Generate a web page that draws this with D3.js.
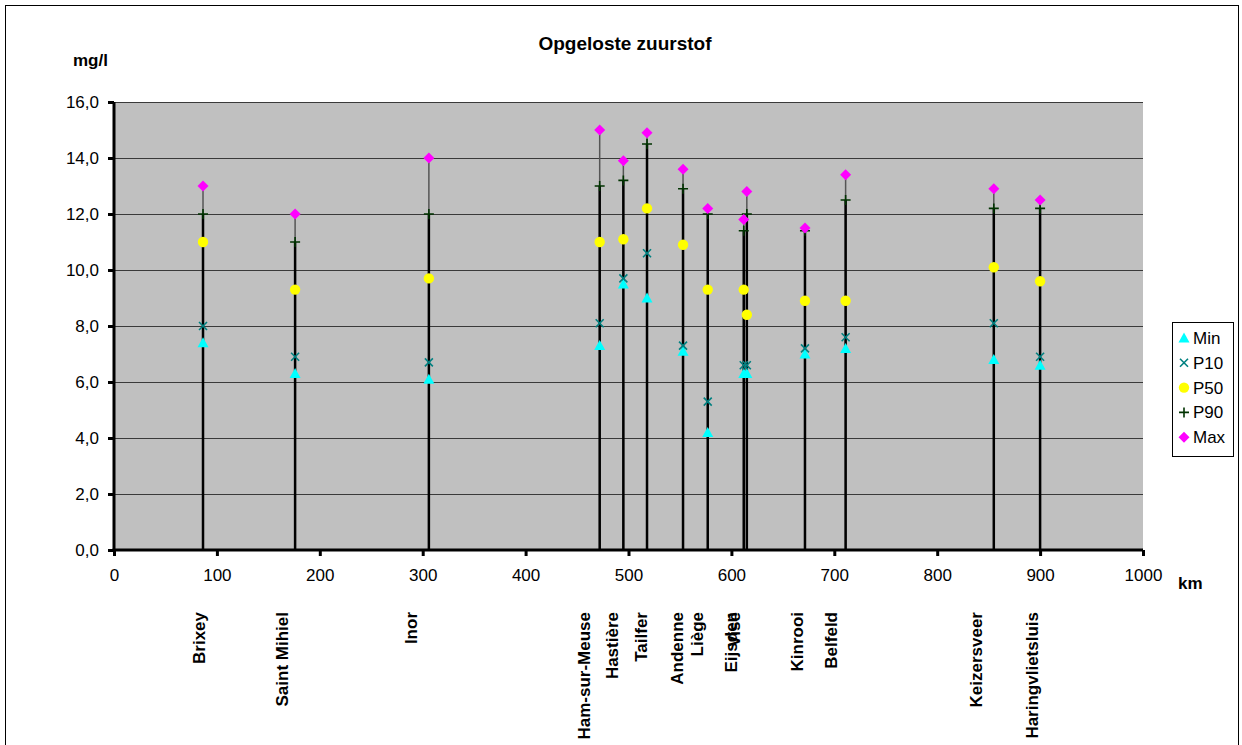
<!DOCTYPE html>
<html><head><meta charset="utf-8">
<script src="https://cdn.jsdelivr.net/npm/d3@7"></script>
<style>body{margin:0;background:#fff}svg{display:block;font-family:Arial,"Liberation Sans",sans-serif}</style>
</head><body><svg id="c" width="1242" height="745"></svg>
<script>
const stations = ["Brixey","Saint Mihiel","Inor","Ham-sur-Meuse","Hastière","Tailfer","Andenne","Liège","Eijsden","Visé","Kinrooi","Belfeld","Keizersveer","Haringvlietsluis"];
const km   = [86.5,176,306,472,495,518,553,577,612,615,671.5,711,855,900];
const labelKm = [83.6,164,289.6,457.7,485,513,548,567.5,600.6,603.5,664.7,697.8,838.7,893];
const minV = [7.4,6.3,6.1,7.3,9.5,9.0,7.1,4.2,6.3,6.3,7.0,7.2,6.8,6.6];
const p10V = [8.0,6.9,6.7,8.1,9.7,10.6,7.3,5.3,6.6,6.6,7.2,7.6,8.1,6.9];
const p50V = [11.0,9.3,9.7,11.0,11.1,12.2,10.9,9.3,9.3,8.4,8.9,8.9,10.1,9.6];
const p90V = [12.0,11.0,12.0,13.0,13.2,14.5,12.9,12.0,11.4,12.0,11.4,12.5,12.2,12.2];
const maxV = [13.0,12.0,14.0,15.0,13.9,14.9,13.6,12.2,11.8,12.8,11.5,13.4,12.9,12.5];
const yTicks = [0,2,4,6,8,10,12,14,16];
const xTicks = [0,100,200,300,400,500,600,700,800,900,1000];
const seriesNames = ["Min","P10","P50","P90","Max"];

const FONT = "Arial, 'Liberation Sans', sans-serif";
const svg = d3.select("#c");
const x = d3.scaleLinear().domain([0,1000]).range([114,1143]);
const y = d3.scaleLinear().domain([0,16]).range([550,102]);
const fmt = v => v.toFixed(1).replace(".", ",");

svg.append("rect").attr("x",5.5).attr("y",5.5).attr("width",1233).attr("height",745).attr("fill","none").attr("stroke","#000").attr("stroke-width",1);

svg.append("rect").attr("x",x(0)).attr("y",y(16)).attr("width",x(1000)-x(0)).attr("height",y(0)-y(16)).attr("fill","#c0c0c0");

// gridlines
svg.append("g").selectAll("line").data(yTicks.filter(d=>d>0)).join("line")
  .attr("x1",x(0)).attr("x2",x(1000)).attr("y1",d=>Math.round(y(d))+0.5).attr("y2",d=>Math.round(y(d))+0.5)
  .attr("stroke","#3a3a3a").attr("stroke-width",1);

const data = stations.map((s,i)=>({s,km:km[i],lk:labelKm[i],min:minV[i],p10:p10V[i],p50:p50V[i],p90:p90V[i],max:maxV[i]}));

// vertical lines
const g = svg.append("g");
g.selectAll("line.hi").data(data).join("line").attr("class","hi")
  .attr("x1",d=>x(d.km)).attr("x2",d=>x(d.km)).attr("y1",y(0)).attr("y2",d=>y(d.max))
  .attr("stroke","#555").attr("stroke-width",1.5);
g.selectAll("line.lo").data(data).join("line").attr("class","lo")
  .attr("x1",d=>x(d.km)).attr("x2",d=>x(d.km)).attr("y1",y(0)).attr("y2",d=>y(d.p90))
  .attr("stroke","#000").attr("stroke-width",2.5);

// axes
const yAxis = d3.axisLeft(y).tickValues(yTicks).tickFormat(fmt).tickSize(6).tickPadding(9);
const ya = svg.append("g").attr("transform",`translate(${x(0)},0)`).call(yAxis);
const xAxis = d3.axisBottom(x).tickValues(xTicks).tickFormat(d3.format("d")).tickSize(6).tickPadding(13);
const xa = svg.append("g").attr("transform",`translate(0,${y(0)})`).call(xAxis);
[ya,xa].forEach(a=>{
  a.select(".domain").remove();
  a.selectAll(".tick line").attr("stroke","#000").attr("stroke-width",3);
  a.selectAll("text").attr("font-size",17).attr("fill","#000").attr("font-family",FONT);
});
svg.append("line").attr("x1",x(0)).attr("x2",x(0)).attr("y1",y(16)).attr("y2",y(0)+1.5).attr("stroke","#000").attr("stroke-width",3);
svg.append("line").attr("x1",x(0)-1.5).attr("x2",x(1000)).attr("y1",y(0)).attr("y2",y(0)).attr("stroke","#000").attr("stroke-width",3);

// markers
const colors = {min:"#00ffff",p10:"#008080",p50:"#ffff00",p90:"#003300",max:"#ff00ff"};
function marker(sel,type){
  if(type==="min") sel.append("path").attr("d","M0,-5.5L5.5,4.5L-5.5,4.5Z").attr("fill",colors.min);
  else if(type==="p10") sel.append("path").attr("d","M-4,-4L4,4M-4,4L4,-4").attr("stroke",colors.p10).attr("stroke-width",1.6).attr("fill","none");
  else if(type==="p50") sel.append("circle").attr("r",5.2).attr("fill",colors.p50);
  else if(type==="p90") sel.append("path").attr("d","M-5,0L5,0M0,-5L0,5").attr("stroke",colors.p90).attr("stroke-width",1.6).attr("fill","none");
  else if(type==="max") sel.append("path").attr("d","M0,-5.5L5.5,0L0,5.5L-5.5,0Z").attr("fill",colors.max);
}
["min","p10","p50","p90","max"].forEach(k=>{
  svg.append("g").selectAll("g").data(data).join("g")
    .attr("transform",d=>`translate(${x(d.km)},${y(d[k])})`)
    .each(function(){marker(d3.select(this),k);});
});

// station labels
svg.append("g").selectAll("text").data(data).join("text")
  .attr("transform",d=>`translate(${x(d.lk)-1},612) rotate(-90)`)
  .attr("text-anchor","end").attr("dy","0.35em")
  .attr("font-size",17).attr("font-weight","bold").attr("font-family",FONT).text(d=>d.s);

// titles
svg.append("text").attr("x",625).attr("y",50).attr("text-anchor","middle").attr("font-size",19).attr("font-weight","bold").text("Opgeloste zuurstof");
svg.append("text").attr("x",73).attr("y",66).attr("font-size",17).attr("font-weight","bold").text("mg/l");
svg.append("text").attr("x",1178).attr("y",589).attr("font-size",17).attr("font-weight","bold").text("km");

// legend
const lg = svg.append("g");
lg.append("rect").attr("x",1172.5).attr("y",322.5).attr("width",61).attr("height",134).attr("fill","#fff").attr("stroke","#000");
const keys = ["min","p10","p50","p90","max"];
keys.forEach((k,i)=>{
  const yy = 338 + i*24.8;
  const m = lg.append("g").attr("transform",`translate(1184,${yy})`);
  marker(m,k);
  lg.append("text").attr("x",1193).attr("y",yy).attr("dy","0.35em").attr("font-size",17).text(seriesNames[i]);
});
</script></body></html>
